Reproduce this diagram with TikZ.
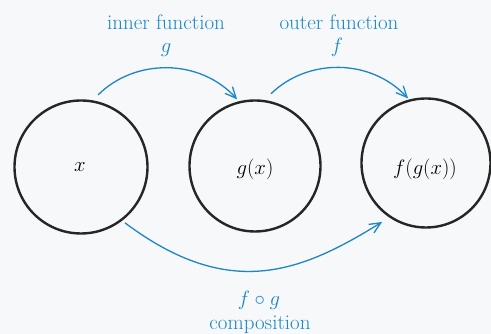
\documentclass[tikz,border=0pt]{standalone}
\usetikzlibrary{arrows.meta,calc}
\definecolor{fblue}{HTML}{1C86C8}
\definecolor{bgc}{HTML}{F6F8FA}
\begin{document}
\begin{tikzpicture}[x=1pt,y=1pt,
  ring/.style={circle,draw=black!85,line width=2.4pt,inner sep=0pt},
  lbl/.style={text=fblue,font=\fontsize{21}{25}\selectfont,anchor=base,inner sep=0pt},
  inlbl/.style={font=\fontsize{21}{25}\selectfont,inner sep=0pt},
  arr/.style={draw=fblue,line width=1.3pt,-{Straight Barb[length=11pt,width=10pt,line width=1.3pt]}}]
\useasboundingbox (0,0) rectangle (491,334);
\fill[bgc] (0,0) rectangle (491,334);
\begin{scope}
\clip (0,0) rectangle (491,334);
\node[ring,minimum size=133pt] (c1) at (81,167) {};
\node[ring,minimum size=131pt] (c2) at (255,168) {};
\node[ring,minimum size=129pt] (c3) at (426,171) {};
\end{scope}
\node[inlbl] (tx) at (80,167) {$x$};
\node[inlbl] (tg) at (255,165) {$g(x)$};
\node[inlbl] (tf) at (425,165) {$f(g(x))$};
% arrows
\coordinate (a1s) at ($(c1.center)+(76.7:74)$);
\coordinate (a1e) at ($(c2.center)+(105:69)$);
\draw[arr] (a1s) .. controls ($(a1s)+(37,37)$) and ($(a1e)+(-37,41)$) .. (a1e);
\coordinate (a2s) at ($(c2.center)+(77.5:74)$);
\coordinate (a2e) at ($(c3.center)+(105.5:67)$);
\draw[arr] (a2s) .. controls ($(a2s)+(37,36)$) and ($(a2e)+(-37,40)$) .. (a2e);
\coordinate (a3s) at ($(c1.center)+(-51.8:71)$);
\coordinate (a3e) at ($(c3.center)+(233.3:73.6)$);
\draw[arr] (a3s) .. controls ($(a3s)+(104,-78)$) and ($(a3e)+(-82,-51)$) .. (a3e);
% labels
\node[lbl] (l1) at (166,304) {inner function};
\node[lbl] (l1g) at (166,281) {$g$};
\node[lbl] (l2) at (339,304) {outer function};
\node[lbl] (l2f) at (337,281) {$f$};
\node[lbl] (l3) at (259,28) {$f\circ g$};
\node[lbl] (l3c) at (260,4) {composition};
\end{tikzpicture}
\end{document}
